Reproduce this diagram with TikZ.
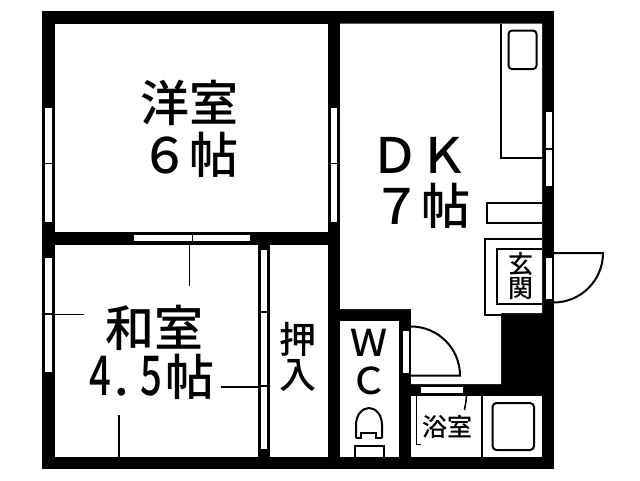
\documentclass[tikz,border=0pt]{standalone}
\usepackage{fontspec}
\usepackage{tikz}
\newfontfamily\jpfont{Noto Sans CJK JP Medium}
\newcommand{\narrowdigit}[1]{\scalebox{.78}[1.12]{#1}}

\begin{document}
\begin{tikzpicture}[x=1pt,y=-1pt,line cap=butt]
    % `room' is a white floor cut out of the black slab.
    % `window' is used for the openings inside the walls.
    % `fitting' is used for kitchen, bath and door outlines.
    \tikzstyle{room} = [fill=white,draw=none]
    \tikzstyle{window} = [fill=white,draw=black,line width=1.2pt]
    \tikzstyle{fitting} = [draw=black,line width=2pt]
    \tikzstyle{tatami} = [draw=black,line width=1.6pt]
    \tikzstyle{biglabel} = [font=\jpfont\fontsize{49}{49}\selectfont,inner sep=0pt,align=center]
    \tikzstyle{midlabel} = [font=\jpfont\fontsize{37}{37}\selectfont,inner sep=0pt,align=center]
    \tikzstyle{smalllabel} = [font=\jpfont\fontsize{25}{25}\selectfont,inner sep=0pt,align=center]
    \useasboundingbox (0,0) rectangle (640,480);
    %
    % Draw walls and floors.
    \fill[black] (42,11) rectangle (554,468.5);
    \fill[room] (55,23.5) rectangle (328,232);
    \fill[room] (55,244.5) rectangle (257.5,456.5);
    \fill[room] (269.5,244.5) rectangle (328,456.5);
    \fill[room] (340,23.5) -- (542,23.5) -- (542,313) -- (501,313) -- (501,384)
                -- (411,384) -- (411,309) -- (340,309) -- cycle;
    \fill[room] (340,321) rectangle (399,456.5);
    \fill[room] (411,396) rectangle (542,456.5);
    %
    % Draw windows.
    \draw[window] (44.5,107) rectangle (52.5,163.5) (44.5,163.5) rectangle (52.5,222.5);
    \draw[window] (330,107) rectangle (338,163.5) (330,163.5) rectangle (338,222.5);
    \draw[window] (133.5,234) rectangle (192.5,242) (192.5,234) rectangle (250.5,242);
    \draw[window] (44.5,257.5) rectangle (52.5,314) (44.5,314) rectangle (52.5,372.5);
    \draw[window] (260,249) rectangle (267.5,312) (260,312) rectangle (267.5,386) (260,386) rectangle (267.5,450);
    \draw[window] (545,111.5) rectangle (552.5,149) (545,149) rectangle (552.5,186.5);
    \draw[window] (545,257) rectangle (552.5,300);
    \draw[window] (402,330) rectangle (409.5,373.5);
    \draw[window] (420,386.5) rectangle (463.5,394);
    %
    % Draw tatami joints.
    \draw[tatami] (189.5,244.5) -- (189.5,286);
    \draw[tatami] (55,314.5) -- (84,314.5);
    \draw[tatami] (119,415) -- (119,456.5);
    \draw[tatami] (221,387) -- (257.5,387);
    %
    % Draw kitchen.
    \draw[fitting] (500.5,23.5) -- (500.5,157.5) -- (542,157.5);
    \draw[fitting,rounded corners=3.5pt] (508.5,30.5) rectangle (536.5,69);
    \draw[fitting] (542,203) -- (486.5,203) -- (486.5,222.5) -- (542,222.5);
    %
    % Draw entrance.
    \draw[fitting] (542,239) -- (485,239) -- (485,315) -- (501,315);
    \draw[fitting] (542,249) -- (496.5,249) -- (496.5,303.5) -- (542,303.5);
    \draw[fitting] (554,253) -- (603,253) arc[start angle=0,end angle=90,radius=49.5];
    %
    % Draw bathroom door.
    \draw[fitting] (411,326.5) arc[start angle=-90,end angle=0,radius=49] -- (411,375.5);
    %
    % Draw bathroom.
    \draw[tatami] (482,396) -- (482,456.5);
    \draw[tatami] (421,444.5) -- (416.5,444.5) -- (416.5,396);
    \draw[tatami] (466.5,396) .. controls (466,403) and (465,406) .. (464.5,410);
    \draw[fitting,rounded corners=4pt] (492.5,403) rectangle (534,450);
    %
    % Draw toilet.
    \draw[fitting] (355,456.5) -- (355,445.5) -- (384,445.5) -- (384,456.5);
    \draw[fitting] (356,438) -- (356,425) .. controls (356,414) and (363,408) .. (369,408)
                   .. controls (375,408) and (382,414) .. (382,425) -- (382,438);
    \draw[fitting] (356,437.5) -- (361,437.5) -- (361,433) -- (376,433) -- (376,437.5) -- (382,437.5);
    %
    % Put labels.
    \node[biglabel] (youshitsu) at (189,103) {洋室};
    \node[biglabel] (roku) at (189,155) {６帖};
    \node[biglabel] (dk) at (419,155) {ＤＫ};
    \node[biglabel] (nana) at (421,206) {７帖};
    \node[biglabel] (washitsu) at (154,328) {和室};
    \node[biglabel] (yonhan) at (152,377) {\narrowdigit{4}\kern3pt.\kern12pt\narrowdigit{5}\kern3pt帖};
    \node[midlabel] (oshi) at (298,339) {押};
    \node[midlabel] (iri) at (298,375) {入};
    \node[midlabel] (wc) at (369,343) {Ｗ};
    \node[midlabel] (cc) at (369,381) {Ｃ};
    \node[smalllabel] (gen) at (521,264) {玄};
    \node[smalllabel] (kan) at (521,289) {関};
    \node[smalllabel] (yoku) at (447,427) {浴室};
\end{tikzpicture}
\end{document}
